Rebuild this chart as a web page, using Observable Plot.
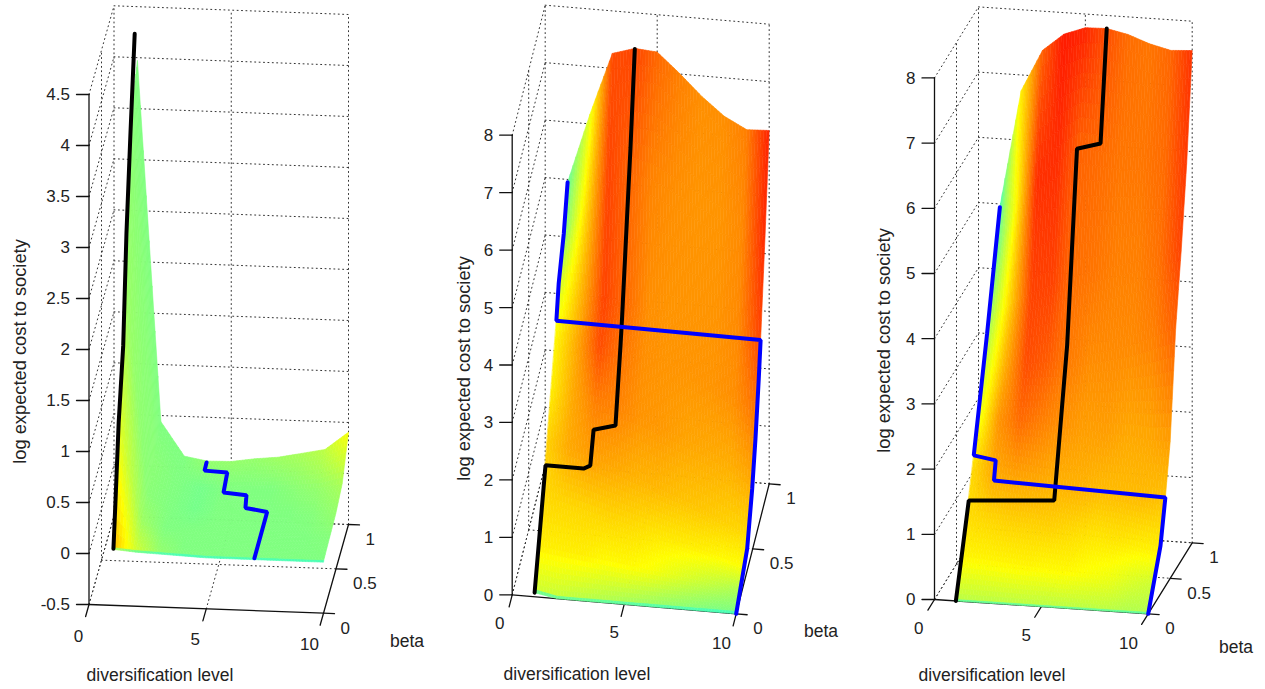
<!DOCTYPE html>
<html><head><meta charset="utf-8">
<style>html,body{margin:0;padding:0;background:#fff}svg{display:block}</style>
<script src="https://cdn.jsdelivr.net/npm/d3@7"></script>
<script src="https://cdn.jsdelivr.net/npm/@observablehq/plot@0.6"></script>
</head><body><script>
// ---- data: diversification level columns, beta rows, log cost (z) and colour value (jet 0-1)
const levels = [1,2,3,4,5,6,7,8,9,10];
const betaA = [0,.015,.25,.5,.75,1];
const costA = [
 [.05,.03,.02,.01,0,0,0,0,0,0],
 [.06,.04,.03,.02,.01,.01,.01,.01,.01,.01],
 [1.08,.12,.06,.04,.03,.02,.02,.02,.03,.03],
 [2.2,.18,.05,.03,.02,.02,.02,.03,.03,.05],
 [3.65,.3,.08,.04,.03,.03,.04,.05,.07,.12],
 [3.97,.44,.11,.07,.075,.11,.134,.18,.227,.405]];
const shadeA = [
 [.40,.40,.40,.40,.40,.40,.40,.40,.40,.40],
 [.70,.58,.52,.50,.50,.50,.50,.50,.50,.50],
 [.60,.53,.50,.50,.50,.50,.50,.50,.50,.505],
 [.53,.51,.50,.49,.50,.50,.50,.50,.505,.52],
 [.51,.51,.50,.49,.50,.50,.50,.51,.52,.54],
 [.50,.50,.50,.52,.52,.52,.53,.54,.56,.62]];
const blackA = [[1,.04,.02],[1,.12,.41],[1,.25,1.08],[1,.43,1.67],[1,.56,2.66],[1,.72,3.5],[1,.89,4.33]];
const blueA = [[7,.05,-.03],[7,.56,-.02],[6,.63,-.05],[6,.67,.04],[5,.69,.04],[5,.84,.106],[4,.87,.09],[4,.95,.1]];

const betaB = [0,.015,.125,.25,.375,.5,.625,.75,.875,1];
const costB = [
 [.07,0,0,0,0,0,0,0,0,0],
 [.1,.02,.02,.02,.02,.02,.02,.02,.02,.02],
 [.6,.55,.5,.45,.4,.35,.3,.25,.18,.12],
 [1.2,1.1,1,.9,.8,.7,.6,.5,.38,.26],
 [1.83,1.75,1.65,1.5,1.35,1.2,1.05,.9,.7,.5],
 [2.47,2.4,2.3,2.2,2.1,1.95,1.8,1.65,1.45,1.18],
 [3.1,3.05,3,2.95,2.9,2.8,2.7,2.5,2.3,2.05],
 [3.85,3.8,3.6,3.5,3.45,3.45,3.4,3.35,3.3,3.2],
 [4.3,4.9,5.3,5.5,5.4,5.2,5,4.8,4.7,4.6],
 [4.95,6.17,7.26,7.38,7.35,7.01,6.64,6.33,6.13,6.15]];
const shadeB = [
 [.40,.40,.40,.40,.40,.40,.40,.40,.40,.40],
 [.58,.57,.56,.55,.54,.53,.52,.51,.50,.50],
 [.64,.64,.64,.63,.63,.62,.60,.58,.56,.54],
 [.665,.665,.665,.665,.66,.65,.645,.64,.63,.625],
 [.67,.71,.72,.71,.70,.695,.685,.68,.67,.66],
 [.64,.71,.75,.745,.73,.725,.715,.71,.705,.71],
 [.63,.71,.80,.76,.735,.73,.73,.73,.735,.76],
 [.57,.69,.81,.77,.735,.73,.73,.73,.74,.81],
 [.50,.65,.81,.775,.745,.735,.73,.73,.74,.835],
 [.47,.60,.80,.81,.775,.75,.735,.735,.75,.84]];
const blackB = [[1,0,.07],[1,.33,1.54],[2.7,.33,1.54],[3,.33,1.6],[3,.43,2],[4,.415,2.14],[4,.567,3.19],[4,.615,3.57],[4,.87,5.95],[4,1,7.37]];
const blueB = [[10,0,0],[10,.333,.38],[10,.485,1.08],[10,.585,1.73],[10,.685,2.55],[10,.74,3.09],[1,.66,3.31],[1,.73,3.8],[1,.885,4.32],[1,1,4.95]];

const betaC = [0,.012,.125,.25,.375,.5,.625,.75,.875,1];
const costC = [
 [0,0,0,0,0,0,0,0,0,0],
 [.02,.02,.02,.02,.02,.02,.02,.02,.02,.02],
 [.55,.53,.5,.47,.45,.43,.41,.39,.36,.32],
 [1.05,1.02,1,.98,.95,.9,.85,.8,.73,.66],
 [1.63,1.6,1.55,1.5,1.45,1.42,1.38,1.35,1.3,1.25],
 [2.25,2.25,2.25,2.25,2.2,2.2,2.15,2.15,2.1,2.1],
 [2.9,2.95,3,3.05,3.1,3.2,3.3,3.4,3.55,3.7],
 [3.55,3.75,3.95,4.1,4.25,4.35,4.45,4.55,4.65,4.75],
 [4.25,5.2,5.6,5.85,6.1,6.05,6,6,5.95,5.95],
 [4.95,6.76,7.4,7.67,7.79,7.8,7.73,7.61,7.53,7.55]];
const shadeC = [
 [.40,.40,.40,.40,.40,.40,.40,.40,.40,.40],
 [.56,.56,.56,.56,.56,.56,.56,.56,.55,.55],
 [.635,.635,.635,.635,.63,.63,.62,.61,.59,.575],
 [.66,.665,.67,.67,.67,.66,.65,.65,.64,.635],
 [.66,.71,.715,.71,.70,.70,.69,.69,.69,.68],
 [.60,.73,.77,.75,.73,.72,.72,.71,.71,.72],
 [.56,.70,.80,.785,.755,.74,.74,.74,.75,.78],
 [.52,.67,.81,.81,.765,.76,.75,.75,.765,.81],
 [.47,.62,.83,.83,.78,.77,.76,.76,.77,.82],
 [.44,.64,.78,.85,.84,.80,.77,.76,.775,.825]];
const blackC = [[1,0,0],[1,.293,1.22],[5,.293,1.31],[5,.586,3.37],[5,.81,6.14],[6,.86,6.19],[6,1,7.8]];
const blueC = [[10,0,0],[10,.28,.74],[10,.39,1.36],[2,.38,1.455],[2,.42,1.72],[1,.407,1.79],[1,.71,3.33],[1,1,4.95]];

const levelTicks = [0,5,10];
const betaTicks = [0,.5,1];
const costTicksA = [-.5,0,.5,1,1.5,2,2.5,3,3.5,4,4.5];
const costTicksB = [0,1,2,3,4,5,6,7,8];

// ---- view of each panel (orthographic 3-D view: origin, one unit of level / beta / cost)
const panels = [
 {beta:betaA,cost:costA,shade:shadeA,black:blackA,blue:blueA,ticks:costTicksA,
  o:[88.5,604],ex:[23.45,.87],ey:[25,-88.7],ez:102,
  xl:[159.5,674.5],yl:[20,351],bl:[406.5,641],levelOff:[[-10.5,32],[-11,31],[-14,31]]},
 {beta:betaB,cost:costB,shade:shadeB,black:blackB,blue:blueB,ticks:costTicksB,
  o:[511.7,594.3],ex:[22.4,1.9],ey:[33,-130],ez:57.45,
  xl:[576.5,673.5],yl:[464,368],bl:[820.5,631],levelOff:[[-12.4,28.4],[-10,28.7],[-14.7,29.4]]},
 {beta:betaC,cost:costC,shade:shadeC,black:blackC,blue:blueC,ticks:costTicksB,
  o:[934,599],ex:[21.37,1.43],ey:[44,-71],ez:65.2,
  xl:[991.5,674.5],yl:[884,340],bl:[1235.5,646.5],levelOff:[[-15.7,28.7],[-15,29.3],[-19.7,29.4]]}
];

const project = (p,d,b,z) => {
  const z0 = p.ticks[0];
  return [p.o[0]+p.ex[0]*d+p.ey[0]*b, p.o[1]+p.ex[1]*d+p.ey[1]*b-p.ez*(z-z0)];
};

const patches=[], dotted=[], solid=[], black=[], blue=[], tickText=[];
let nid=0;
const seg=(arr,a,b)=>{const id=nid++;arr.push({x:a[0],y:a[1],id},{x:b[0],y:b[1],id});};
const SUB=8;
panels.forEach(p=>{
  const z0=p.ticks[0], z1=p.ticks[p.ticks.length-1];
  for(const z of p.ticks){
    seg(dotted,project(p,0,0,z),project(p,0,1,z));
    seg(dotted,project(p,0,1,z),project(p,10,1,z));
  }
  for(const b of [.5,1]) seg(dotted,project(p,0,b,z0),project(p,0,b,z1));
  for(const d of [5,10]) seg(dotted,project(p,d,1,z0),project(p,d,1,z1));
  for(const d of [0,5]) seg(dotted,project(p,d,0,z0),project(p,d,1,z0));
  for(const b of [.5,1]) seg(dotted,project(p,0,b,z0),project(p,10,b,z0));
  seg(solid,project(p,0,0,z0),project(p,0,0,z1));
  seg(solid,project(p,0,0,z0),project(p,10,0,z0));
  seg(solid,project(p,10,0,z0),project(p,10,1,z0));
  const ly=Math.hypot(...p.ey), lx=Math.hypot(...p.ex);
  for(const z of p.ticks){
    const a=project(p,0,0,z);
    seg(solid,a,[a[0]-12.5,a[1]]);
    tickText.push({x:a[0]-19,y:a[1]+.5,t:String(z).replace("-","-"),a:"end"});
  }
  levelTicks.forEach((d,i)=>{
    const a=project(p,d,0,z0);
    seg(solid,a,[a[0]-p.ey[0]/ly*12.5,a[1]-p.ey[1]/ly*12.5]);
    tickText.push({x:a[0]+p.levelOff[i][0],y:a[1]+p.levelOff[i][1],t:String(d),a:"middle"});
  });
  betaTicks.forEach(b=>{
    const a=project(p,10,b,z0);
    seg(solid,a,[a[0]+p.ex[0]/lx*11,a[1]+p.ex[1]/lx*11]);
    tickText.push({x:a[0]+17,y:a[1]+15,t:String(b),a:"start"});
  });
  for(let r=0;r<p.beta.length-1;r++) for(let c=0;c<levels.length-1;c++){
    const bil=(m,u,v)=>(1-u)*(1-v)*m[r][c]+u*(1-v)*m[r][c+1]+(1-u)*v*m[r+1][c]+u*v*m[r+1][c+1];
    const nv = p.beta[r+1]-p.beta[r] < .05 ? 1 : SUB;
    for(let i=0;i<SUB;i++) for(let j=0;j<nv;j++){
      const id=nid++;
      const v=bil(p.shade,(i+.5)/SUB,(j+.5)/nv);
      for(const [a,e] of [[i,j],[i+1,j],[i+1,j+1],[i,j+1]]){
        const u=a/SUB,w=e/nv;
        const d=levels[c]+(levels[c+1]-levels[c])*u, b=p.beta[r]+(p.beta[r+1]-p.beta[r])*w;
        const q=project(p,d,b,bil(p.cost,u,w));
        patches.push({x:q[0],y:q[1],id,v});
      }
    }
  }
  const id1=nid++, id2=nid++;
  p.black.forEach(([d,b,z])=>{const q=project(p,d,b,z);black.push({x:q[0],y:q[1],id:id1});});
  p.blue.forEach(([d,b,z])=>{const q=project(p,d,b,z);blue.push({x:q[0],y:q[1],id:id2});});
});
const font="Liberation Sans";
const xLabels=panels.map(p=>({x:p.xl[0],y:p.xl[1]}));
const yLabels=panels.map(p=>({x:p.yl[0],y:p.yl[1]}));
const bLabels=panels.map(p=>({x:p.bl[0],y:p.bl[1]}));

const chart=Plot.plot({
  width:1265,height:689,margin:0,
  style:{fontFamily:font,background:"#fff"},
  x:{domain:[0,1265],range:[0,1265],axis:null},
  y:{domain:[0,689],range:[0,689],axis:null},
  color:{type:"linear",domain:[.375,.625,.875],range:["#00ffff","#ffff00","#ff0000"]},
  marks:[
    Plot.line(dotted,{x:"x",y:"y",z:"id",stroke:"#333",strokeWidth:1,strokeDasharray:"1,3.4"}),
    Plot.line(solid,{x:"x",y:"y",z:"id",stroke:"#111",strokeWidth:1.3}),
    Plot.line(patches,{x:"x",y:"y",z:"id",fill:"v",stroke:"v",strokeWidth:.6,curve:"linear-closed"}),
    Plot.line(black,{x:"x",y:"y",z:"id",stroke:"#000",strokeWidth:4,strokeLinejoin:"miter"}),
    Plot.line(blue,{x:"x",y:"y",z:"id",stroke:"#0000ff",strokeWidth:4,strokeLinejoin:"miter"}),
    Plot.text(tickText.filter(d=>d.a==="middle"),{x:"x",y:"y",text:"t",textAnchor:"middle",fontSize:17,fill:"#222"}),
    Plot.text(tickText.filter(d=>d.a==="end"),{x:"x",y:"y",text:"t",textAnchor:"end",fontSize:17,fill:"#222"}),
    Plot.text(tickText.filter(d=>d.a==="start"),{x:"x",y:"y",text:"t",textAnchor:"start",fontSize:17,fill:"#222"}),
    Plot.text(xLabels,{x:"x",y:"y",text:()=>"diversification level",fontSize:17.5,fill:"#222"}),
    Plot.text(yLabels,{x:"x",y:"y",text:()=>"log expected cost to society",fontSize:18.3,rotate:-90,fill:"#222"}),
    Plot.text(bLabels,{x:"x",y:"y",text:()=>"beta",fontSize:17.5,fill:"#222"})
  ]
});
document.body.appendChild(chart);
</script></body></html>
